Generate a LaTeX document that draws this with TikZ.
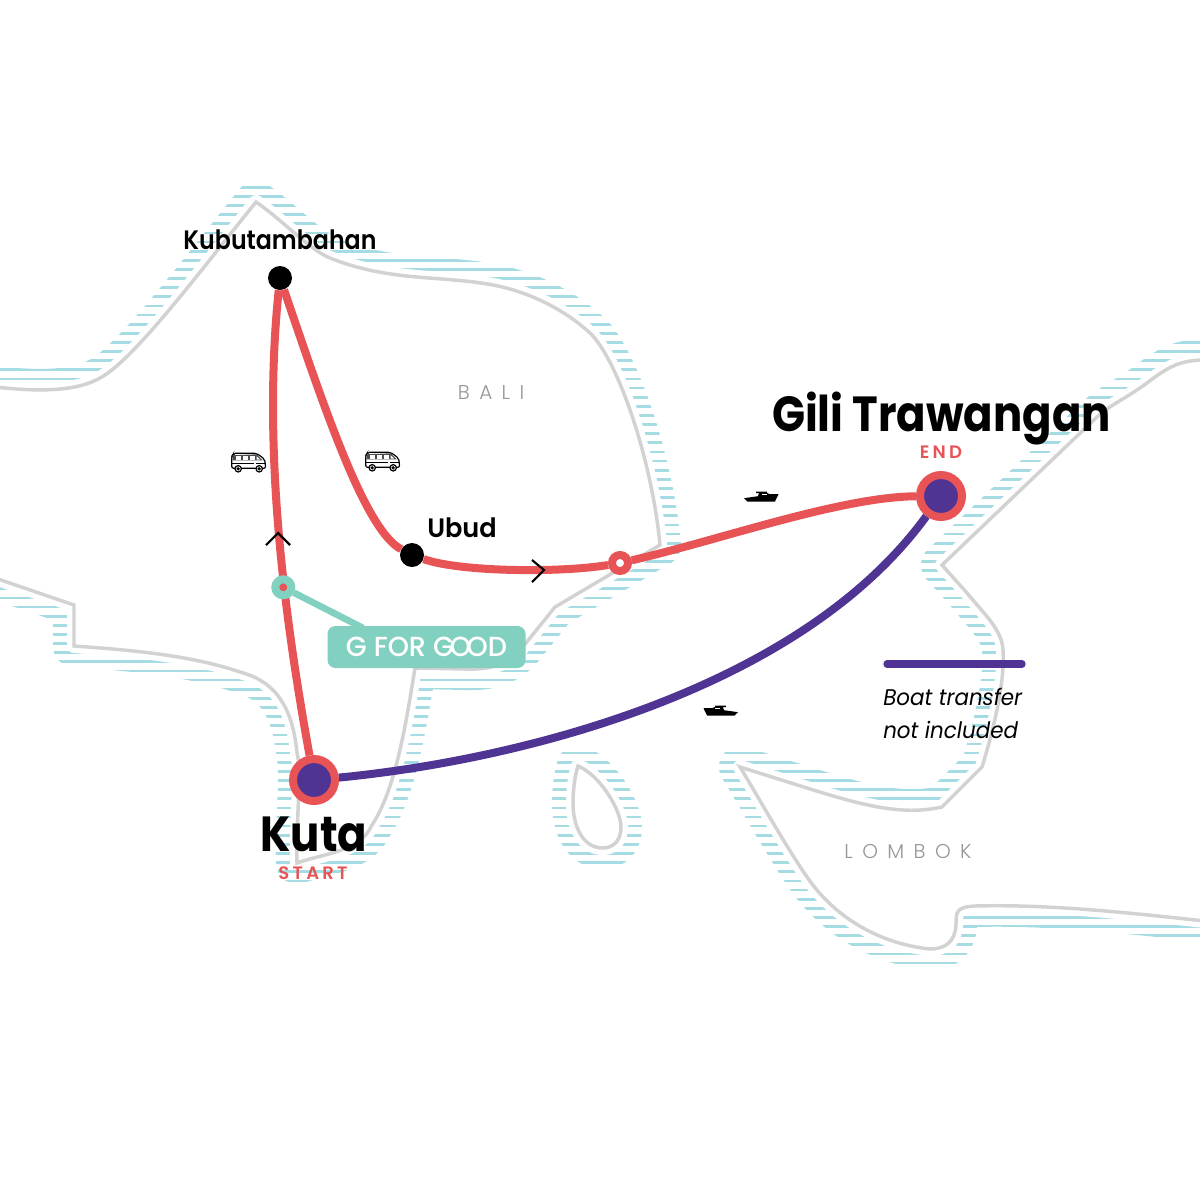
\documentclass[tikz,border=0pt]{standalone}
\usepackage{fontspec}
\setmainfont{Poppins}
\newfontfamily\medfont[FakeStretch=0.89]{Poppins SemiBold}
\newfontfamily\ubudfont[FakeStretch=0.96]{Poppins SemiBold}
\newfontfamily\goodfont[FakeStretch=0.98]{Poppins Medium}
\newfontfamily\semifont[FakeStretch=0.88]{Poppins Bold}
\newfontfamily\placefont[LetterSpace=47]{Poppins Light}
\newfontfamily\startfont[LetterSpace=18]{Poppins SemiBold}
\newfontfamily\legendfont[FakeStretch=0.945]{Poppins Italic}
\definecolor{routered}{RGB}{232,83,86}
\definecolor{boatpurple}{RGB}{79,52,147}
\definecolor{goodteal}{RGB}{130,208,192}
\definecolor{coastgrey}{RGB}{210,210,210}
\definecolor{seablue}{RGB}{165,220,228}
\definecolor{placegrey}{RGB}{150,150,152}
% coast lines, in picture pixels
\def\baliCoast{(-5,387) .. controls (40,392) and (80,392) .. (105,375) .. controls (140,352) and (205,265) .. (256,202) .. controls (280,218) and (310,250) .. (330,258) .. controls (390,282) and (440,275) .. (493,285) .. controls (530,292) and (565,310) .. (590,333) .. controls (618,360) and (652,460) .. (660,545) -- (555,607) -- (526,643) .. controls (510,665) and (490,670) .. (465,669) -- (415,668) .. controls (405,730) and (395,790) .. (372,825) .. controls (360,852) and (325,853) .. (297,863) .. controls (296,820) and (302,770) .. (297,753) .. controls (292,700) and (270,680) .. (240,672) .. controls (190,655) and (130,650) .. (74,646) -- (74,605) -- (-5,578) -- cycle}
\def\lombokCoast{(1205,360) .. controls (1180,360) and (1168,367) .. (1147,383) .. controls (1125,399) and (1110,405) .. (1097,417) -- (942,565) -- (967,593) .. controls (985,615) and (1002,630) .. (1003,650) .. controls (1005,680) and (995,725) .. (982,767) -- (942,807) .. controls (905,815) and (870,808) .. (807,788) -- (740,767) .. controls (760,800) and (785,845) .. (807,877) .. controls (840,925) and (890,945) .. (930,949) .. controls (945,949) and (955,942) .. (956,925) .. controls (956,912) and (956,907) .. (975,906) .. controls (1050,904) and (1130,913) .. (1205,921) -- cycle}
\def\penidaCoast{(578,766) .. controls (600,775) and (621,810) .. (621,827) .. controls (621,842) and (612,848) .. (603,848) .. controls (582,848) and (573,825) .. (573,803) .. controls (573,790) and (575,775) .. (578,766) -- cycle}
\tikzset{
    seaband/.style={seablue,line width=31.5pt,line join=round},
    landfill/.style={fill=white,draw=white,line width=10.5pt,line join=round},
    coastline/.style={coastgrey,line width=2.6pt},
    routeline/.style={routered,line width=6pt},
    boatline/.style={boatpurple,line width=6pt},
    bigstop/.style={circle,draw=routered,fill=boatpurple,line width=6pt,minimum size=31.5pt,inner sep=0pt},
    blackstop/.style={circle,fill=black,minimum size=18pt,inner sep=0pt},
    smallstop/.style={circle,line width=6pt,minimum size=12pt,inner sep=0pt},
    chevron/.style={black,line width=1.6pt},
    busicon/.pic={
        \draw[line width=0.9pt,fill=white,rounded corners=1.5pt] (0,15) -- (0,3) -- (2,0) -- (25,0) -- (33,6) -- (34,15) -- cycle;
        \fill[black!70] (1,2) -- (25,1) -- (31,7) -- (1,7) -- cycle;
        \foreach \wx in {4,11,18}
            \fill[white] (\wx,3) rectangle ++(5,3.2);
        \fill[white] (25,3) -- (28.5,6.2) -- (25,6.2) -- cycle;
        \draw[line width=0.7pt] (0,10) -- (22,10) (24,10) -- (34,10);
        \foreach \wx in {6.5,27.5}
            \draw[line width=0.9pt,fill=white] (\wx,15.5) circle (3.2) (\wx,15.5) circle (1);
    },
    boaticon/.pic={
        \fill[black] (0,6.7) -- (14,4.7) -- (15,1.5) -- (12,1.5) -- (12,0) -- (23,0) -- (23,1.5) -- (26,2.7) -- (34.5,2.7) -- (31,10) -- (3.3,10) -- cycle;
        \fill[white] (18,2.2) rectangle (23,3.6);
    }
}
\begin{document}
\begin{tikzpicture}[x=0.75pt,y=0.75pt,yscale=-1,xscale=1]
    \useasboundingbox (0,0) rectangle (1200,1200);
    \fill[white] (0,0) rectangle (1200,1200);
    % Sea hatching and land
    \begin{scope}
        \clip (0,0) rectangle (1200,1200);
        \draw[seaband] \baliCoast;
        \draw[seaband] \lombokCoast;
        \draw[seaband] \penidaCoast;
        \foreach \k in {-1,...,90}
            \draw[white,line width=4.8pt] (-5,{191.86+9.126*\k}) -- (1205,{191.86+9.126*\k});
        \path[landfill] \baliCoast;
        \path[landfill] \lombokCoast;
        \path[landfill] \penidaCoast;
        \draw[coastline] \baliCoast;
        \draw[coastline] \lombokCoast;
        \draw[coastline] \penidaCoast;
    \end{scope}
    % Stops
    \node[bigstop] (kuta) at (314,780) {};
    \node[bigstop] (gili) at (941,496) {};
    \node[blackstop] (kubu) at (280,278) {};
    \node[blackstop] (ubud) at (412,555) {};
    \node[smallstop,draw=routered,fill=white] (sea) at (620,563) {};
    % Routes
    \draw[routeline] (kuta) .. controls (285,620) and (262,450) .. (kubu);
    \draw[routeline] (kubu) .. controls (325,410) and (365,530) .. (ubud);
    \draw[routeline] (ubud) .. controls (460,572) and (560,573) .. (sea);
    \draw[routeline] (sea) .. controls (720,540) and (840,497) .. (gili);
    \draw[boatline] (kuta) .. controls (520,760) and (800,690) .. (gili);
    % Chevrons
    \draw[chevron] (266,545) -- (278,533) -- (290,545);
    \draw[chevron] (532,560) -- (544,570) -- (532,582);
    % G for good
    \node[smallstop,draw=goodteal,fill=routered] (good) at (283.3,587.3) {};
    \coordinate (goodend) at (363,628);
    \draw[goodteal,line width=5pt] (good) -- (goodend);
    \node[fill=goodteal,rounded corners=6pt,minimum width=148.5pt,minimum height=31.5pt,inner sep=0pt,text=white,font=\goodfont\fontsize{20.7}{22}\selectfont] (goodlabel) at (426.5,647) {G FOR G\kern-3.2ptO\kern-3.2ptOD};
    % Transport icons
    \pic[transform shape] at (231.7,453.3) {busicon};
    \pic[transform shape] at (365.7,452.3) {busicon};
    \pic[transform shape] at (744,491.5) {boaticon};
    \pic[transform shape,xscale=-1] at (738,705.5) {boaticon};
    % Text Node
    \node[anchor=base,inner sep=0pt,font=\medfont\fontsize{20}{22}\selectfont] (kubutext) at (280,249) {Kubutambahan};
    \node[anchor=base,inner sep=0pt,font=\ubudfont\fontsize{20}{22}\selectfont] (ubudtext) at (462,537) {Ubud};
    \node[anchor=base,inner sep=0pt,font=\semifont\fontsize{37}{40}\selectfont] (gilitext) at (941.5,431) {Gili Trawangan};
    \node[anchor=base,inner sep=0pt,font=\semifont\fontsize{37}{40}\selectfont] (kutatext) at (314,851) {Kuta};
    \node[anchor=base,inner sep=0pt,text=routered,font=\startfont\fontsize{13.5}{15}\selectfont] (endtext) at (941,458) {END};
    \node[anchor=base,inner sep=0pt,text=routered,font=\startfont\fontsize{13.5}{15}\selectfont] (starttext) at (313,879) {START};
    \node[anchor=base,inner sep=0pt,text=placegrey,font=\placefont\fontsize{15}{17}\selectfont] (balitext) at (491,399) {BALI};
    \node[anchor=base,inner sep=0pt,text=placegrey,font=\placefont\fontsize{15}{17}\selectfont] (lomboktext) at (908,858) {LOMBOK};
    % Legend
    \coordinate (legstart) at (887,664);
    \coordinate (legend) at (1022,664);
    \draw[boatpurple,line width=5.5pt,line cap=round] (legstart) -- (legend);
    \node[anchor=base west,inner sep=0pt,font=\legendfont\fontsize{17}{18}\selectfont] (legone) at (883,705) {Boat transfer};
    \node[anchor=base west,inner sep=0pt,font=\legendfont\fontsize{17}{18}\selectfont] (legtwo) at (883,738) {not included};
\end{tikzpicture}
\end{document}
